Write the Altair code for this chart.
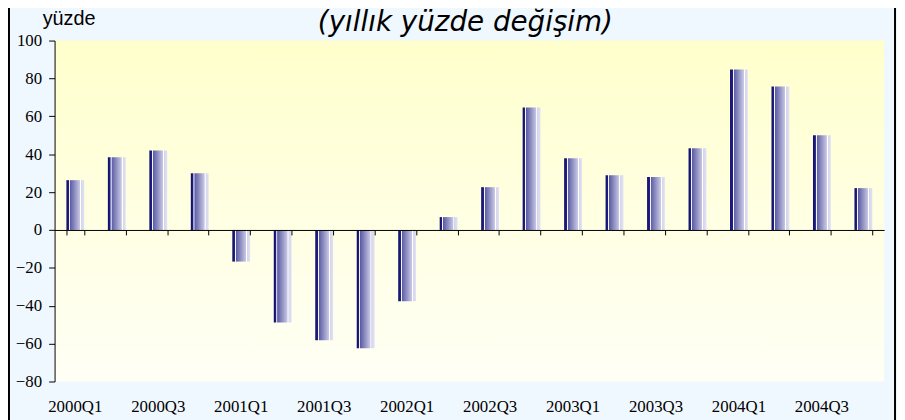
import altair as alt
import pandas as pd

quarters = [f"{y}Q{q}" for y in range(2000, 2005) for q in range(1, 5)]
values = [26.3, 38.4, 42.0, 30.0, -16.7, -48.8, -58.2, -62.4, -37.7, 6.8,
          22.6, 64.7, 37.9, 28.9, 27.9, 43.2, 84.7, 75.8, 50.0, 22.1]
label_quarters = quarters[::2]
y_ticks = list(range(-80, 101, 20))
title_text = "(yıllık yüzde değişim)"
unit_text = "yüzde"

W, H = 837, 344
Y_MIN, Y_MAX = -80, 100
zero_from_bottom = H * (0 - Y_MIN) / (Y_MAX - Y_MIN)

df = pd.DataFrame({"q": quarters, "v": values})
lab_df = pd.DataFrame({"q": label_quarters})
one = pd.DataFrame({"a": [0]})

xscale = alt.Scale(domain=quarters, paddingInner=0.57, paddingOuter=0.285)
yscale = alt.Scale(domain=[Y_MIN, Y_MAX], nice=False, zero=True)

x_axis = alt.Axis(orient="bottom", offset=-zero_from_bottom,
                  labels=False, title=None, tickBand="extent", tickSize=5,
                  domainColor="#000000", tickColor="#000000", domainWidth=1,
                  tickWidth=1, grid=False, zindex=2)

bg_grad = alt.LinearGradient(
    gradient="linear", x1=0, x2=0, y1=0, y2=1,
    stops=[alt.GradientStop(color="#FFFFCC", offset=0),
           alt.GradientStop(color="#FFFFE4", offset=0.55),
           alt.GradientStop(color="#FFFFF5", offset=1)])

bar_grad = alt.LinearGradient(
    gradient="linear", x1=0, x2=1, y1=0, y2=0,
    stops=[alt.GradientStop(color="#101068", offset=0),
           alt.GradientStop(color="#202082", offset=0.14),
           alt.GradientStop(color="#F4F4FF", offset=0.155),
           alt.GradientStop(color="#F4F4FF", offset=0.2),
           alt.GradientStop(color="#5C5CA4", offset=0.21),
           alt.GradientStop(color="#C8C8E4", offset=0.76),
           alt.GradientStop(color="#FFFFFF", offset=0.78),
           alt.GradientStop(color="#FFFFFF", offset=0.82),
           alt.GradientStop(color="#D4D4EC", offset=0.83),
           alt.GradientStop(color="#E2E2F4", offset=1)])

bg = alt.Chart(one).mark_rect(color=bg_grad).encode(
    x=alt.value(0), x2=alt.value("width"), y=alt.value(0), y2=alt.value("height"))

bars = alt.Chart(df).mark_bar(color=bar_grad).encode(
    x=alt.X("q:N", scale=xscale, sort=quarters, axis=x_axis),
    y=alt.Y("v:Q", scale=yscale,
            axis=alt.Axis(values=y_ticks, title=None, tickSize=6, labelPadding=7,
                          labelFont="Liberation Serif", labelFontSize=17, labelColor="#000000",
                          domainColor="#000000", tickColor="#000000", grid=False, zindex=2)),
)

xlabels = alt.Chart(lab_df).mark_text(
    font="Liberation Serif", fontSize=17, color="#000000", align="center", baseline="alphabetic"
).encode(
    x=alt.X("q:N", scale=xscale, sort=quarters, axis=x_axis),
    y=alt.value(H + 31),
    text="q:N",
)

title = alt.Chart(one).mark_text(
    text=title_text, font="DejaVu Sans", fontStyle="italic", fontSize=28,
    color="#000000", align="center", baseline="alphabetic"
).encode(x=alt.value(W / 2 - 4), y=alt.value(-10))

unit = alt.Chart(one).mark_text(
    text=unit_text, font="Liberation Sans", fontSize=20, color="#000000",
    align="left", baseline="alphabetic"
).encode(x=alt.value(-12), y=alt.value(-16))

border_r = alt.Chart(one).mark_rule(color="#000000", strokeWidth=2).encode(
    x=alt.value(W + 11), y=alt.value(-40), y2=alt.value(H + 60))
border_l = alt.Chart(one).mark_rule(color="#000000", strokeWidth=2).encode(
    x=alt.value(-46), y=alt.value(-40), y2=alt.value(H + 60))

chart = alt.layer(bg, bars, xlabels, title, unit, border_r, border_l).properties(
    width=W, height=H,
    autosize=alt.AutoSizeParams(type="none"),
    padding={"left": 47, "top": 31, "right": 13, "bottom": 37},
    background="#F0F8FF",
).configure_view(stroke=None)

chart.save("out.html", embed_options={"renderer": "svg", "actions": False})
